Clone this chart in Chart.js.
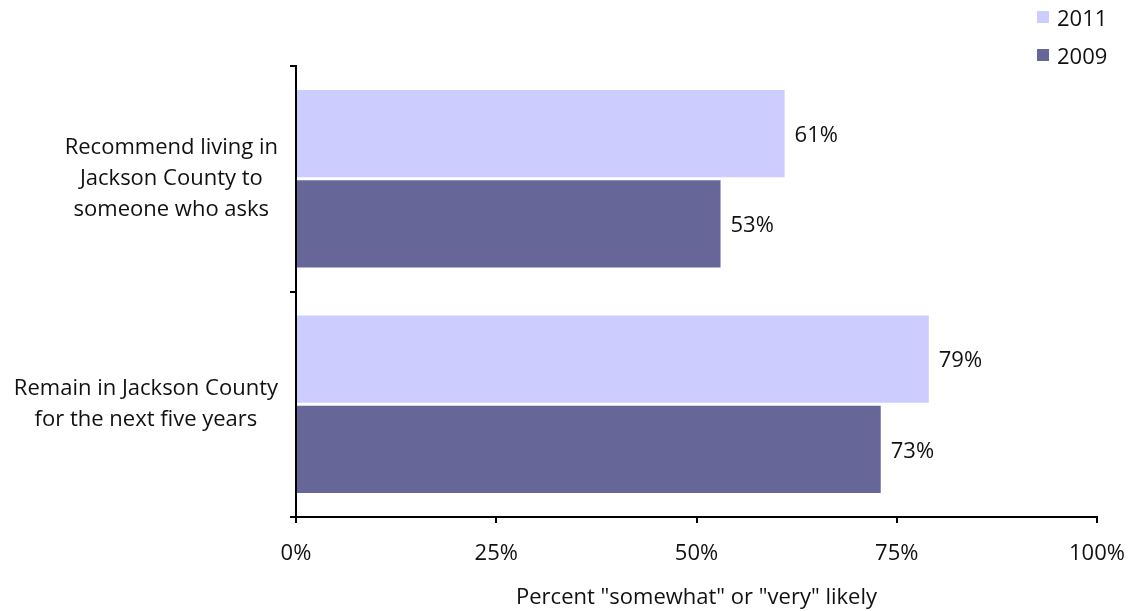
<!DOCTYPE html>
<html>
<head>
<meta charset="utf-8">
<script src="https://cdn.jsdelivr.net/npm/chart.js@4"></script>
<style>
  html, body { margin: 0; padding: 0; background: #fff; }
  #wrap { position: relative; width: 1133px; height: 611px; }
  #legend { position: absolute; left: 1037px; top: -2px; font-family: "Open Sans", sans-serif; font-size: 22px; color: #111; }
  .li { display: flex; align-items: center; height: 38px; }
  .sw { width: 12px; height: 12px; margin-right: 8px; }
</style>
</head>
<body>
<div id="wrap">
  <canvas id="c" width="1133" height="611"></canvas>
  <div id="legend"></div>
</div>
<script>
const categories = [
  ["Recommend living in", "Jackson County to", "someone who asks"],
  ["Remain in Jackson County", "for the next five years"]
];
const seriesNames = ["2011", "2009"];
const values2011 = [61, 79];
const values2009 = [53, 73];
const xTicks = [0, 25, 50, 75, 100];
const xTitle = 'Percent "somewhat" or "very" likely';
const colors = ["#CCCCFF", "#666699"];

const FONT = '"Open Sans", sans-serif';
const FS = 22;

const legendEl = document.getElementById('legend');
seriesNames.forEach((n, i) => {
  const d = document.createElement('div');
  d.className = 'li';
  d.innerHTML = '<span class="sw" style="background:' + colors[i] + '"></span><span>' + n + '</span>';
  legendEl.appendChild(d);
});

const yLabelPlugin = {
  id: 'yLabels',
  afterDraw(chart) {
    const ctx = chart.ctx;
    const ys = chart.scales.y;
    const right = chart.chartArea.left - 18;
    ctx.save();
    ctx.font = FS + 'px ' + FONT;
    ctx.fillStyle = '#111';
    ctx.textAlign = 'center';
    ctx.textBaseline = 'middle';
    const lh = 31;
    categories.forEach((lines, i) => {
      const w = Math.max(...lines.map(l => ctx.measureText(l).width));
      const cx = right - w / 2;
      const cy = ys.getPixelForValue(i);
      const y0 = cy - (lines.length - 1) * lh / 2;
      lines.forEach((l, j) => ctx.fillText(l, cx, y0 + j * lh));
    });
    ctx.restore();
  }
};

const valueLabelPlugin = {
  id: 'valueLabels',
  afterDatasetsDraw(chart) {
    const ctx = chart.ctx;
    ctx.save();
    ctx.font = FS + 'px ' + FONT;
    ctx.fillStyle = '#111';
    ctx.textAlign = 'left';
    ctx.textBaseline = 'middle';
    chart.data.datasets.forEach((ds, di) => {
      const meta = chart.getDatasetMeta(di);
      meta.data.forEach((el, i) => {
        ctx.fillText(ds.data[i] + '%', el.x + 10, el.y + 2);
      });
    });
    ctx.restore();
  }
};

new Chart(document.getElementById('c'), {
  type: 'bar',
  data: {
    labels: categories.map(c => c.join(' ')),
    datasets: [
      { label: seriesNames[0], data: values2011, backgroundColor: colors[0], barPercentage: 0.967, categoryPercentage: 0.8 },
      { label: seriesNames[1], data: values2009, backgroundColor: colors[1], barPercentage: 0.967, categoryPercentage: 0.8 }
    ]
  },
  options: {
    indexAxis: 'y',
    responsive: false,
    animation: false,
    layout: { padding: { top: 66, right: 36, bottom: 0, left: 0 } },
    plugins: { legend: { display: false }, tooltip: { enabled: false } },
    scales: {
      x: {
        min: 0, max: 100,
        afterBuildTicks(s) { s.ticks = xTicks.map(v => ({ value: v })); },
        ticks: { callback: v => v + '%', font: { family: FONT, size: FS }, color: '#111', padding: 18, maxRotation: 0 },
        grid: { drawOnChartArea: false, drawTicks: true, tickLength: 6, color: '#000', lineWidth: 2 },
        border: { color: '#000', width: 2 },
        title: { display: true, text: xTitle, font: { family: FONT, size: FS }, color: '#111', padding: { top: 10, bottom: 0 } },
        afterFit(s) { s.height = 94; s.paddingLeft = 0; s.paddingRight = 0; }
      },
      y: {
        ticks: { display: false },
        grid: { drawOnChartArea: false, drawTicks: true, tickLength: 6, color: '#000', lineWidth: 2, offset: true },
        border: { color: '#000', width: 2 },
        afterFit(s) { s.width = 296; }
      }
    }
  },
  plugins: [yLabelPlugin, valueLabelPlugin]
});
</script>
</body>
</html>
